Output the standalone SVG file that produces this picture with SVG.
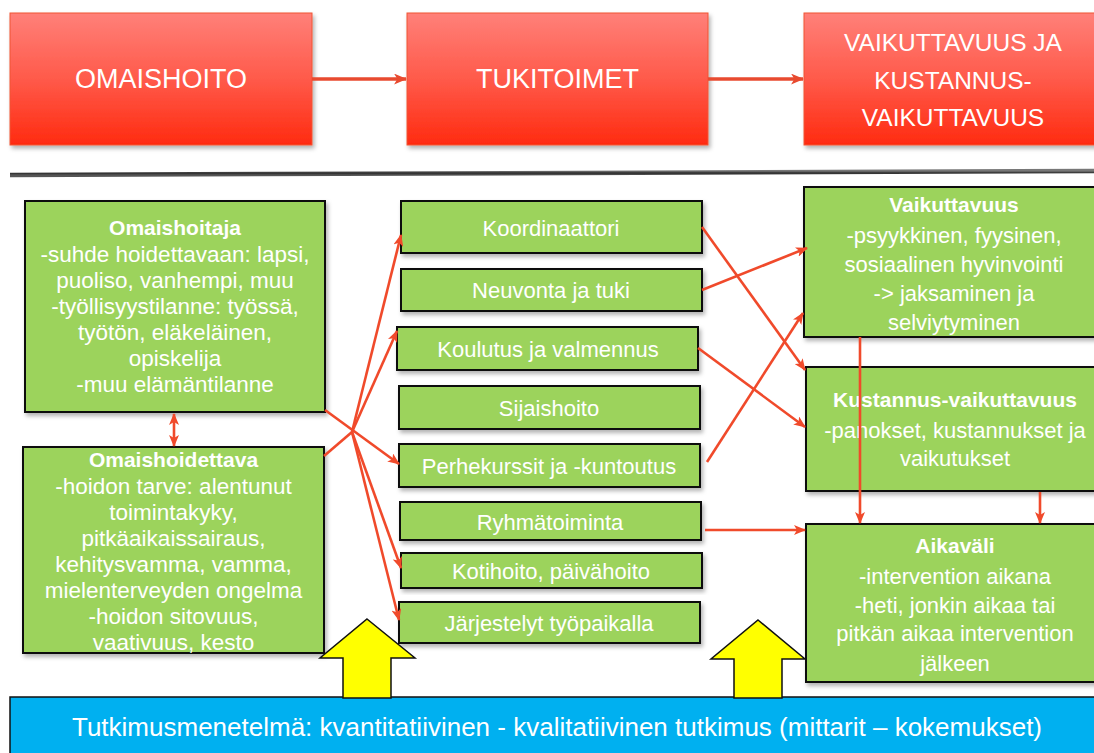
<svg xmlns="http://www.w3.org/2000/svg" width="1094" height="753" viewBox="0 0 1094 753">
<defs>
  <linearGradient id="redg" x1="0" y1="0" x2="0" y2="1">
    <stop offset="0" stop-color="#FF8079"/>
    <stop offset="0.5" stop-color="#FF5A4A"/>
    <stop offset="1" stop-color="#FF2B10"/>
  </linearGradient>
  <linearGradient id="sepg" x1="0" y1="0" x2="0" y2="1">
    <stop offset="0" stop-color="#777"/>
    <stop offset="0.5" stop-color="#2a2a2a"/>
    <stop offset="1" stop-color="#555"/>
  </linearGradient>
  <filter id="sh" x="-10%" y="-10%" width="130%" height="130%">
    <feDropShadow dx="2" dy="3" stdDeviation="2" flood-color="#000" flood-opacity="0.3"/>
  </filter>
  <marker id="ah" viewBox="0 0 12 10" refX="11" refY="5" markerUnits="userSpaceOnUse" markerWidth="12" markerHeight="10" orient="auto-start-reverse">
    <path d="M0,0 L12,5 L0,10 L3,5 z" fill="#F04A2B"/>
  </marker>
  <marker id="ahb" viewBox="0 0 12 10" refX="11" refY="5" markerUnits="userSpaceOnUse" markerWidth="13" markerHeight="11" orient="auto-start-reverse">
    <path d="M0,0 L12,5 L0,10 L3,5 z" fill="#E84A2F"/>
  </marker>
</defs>
<style>
  .red{fill:url(#redg);stroke:#F05535;stroke-width:1;filter:url(#sh)}
  .grn{fill:#9CD35C;stroke:#111;stroke-width:2;filter:url(#sh)}
  .tw{fill:#fff;font-family:"Liberation Sans",Arial,sans-serif;text-anchor:middle}
  .top{font-size:27px}
  .top3{font-size:24.5px}
  .lt{font-size:22.5px}
  .mt{font-size:22px}
  .b{font-weight:bold;font-size:21px}
  .con{fill:none;stroke:#F04A2B;stroke-width:2.6;marker-end:url(#ah)}
  .conn{fill:none;stroke:#F04A2B;stroke-width:2.6}
  .yel{fill:#FFFF00;stroke:#111;stroke-width:1.5}
</style>

<!-- top row -->
<g id="omaishoito">
  <rect class="red" x="10" y="13" width="302" height="132"/>
  <text class="tw top" x="161" y="88">OMAISHOITO</text>
</g>
<g id="tukitoimet">
  <rect class="red" x="407" y="13" width="301" height="132"/>
  <text class="tw top" x="557.5" y="88">TUKITOIMET</text>
</g>
<g id="vaikuttavuus-top">
  <rect class="red" x="804" y="13" width="300" height="132"/>
  <text class="tw top3" x="953" y="51">VAIKUTTAVUUS JA</text>
  <text class="tw top3" x="953" y="89">KUSTANNUS-</text>
  <text class="tw top3" x="953" y="126">VAIKUTTAVUUS</text>
</g>

<line x1="10" y1="175" x2="1094" y2="171" stroke="url(#sepg)" stroke-width="4.5"/>

<!-- left boxes -->
<g id="omaishoitaja">
  <rect class="grn" x="25" y="201" width="300" height="211"/>
  <text class="tw b" x="175" y="235">Omaishoitaja</text>
  <text class="tw lt" x="175" y="262">-suhde hoidettavaan: lapsi,</text>
  <text class="tw lt" x="175" y="288">puoliso, vanhempi, muu</text>
  <text class="tw lt" x="175" y="314">-työllisyystilanne: työssä,</text>
  <text class="tw lt" x="175" y="340">työtön, eläkeläinen,</text>
  <text class="tw lt" x="175" y="366">opiskelija</text>
  <text class="tw lt" x="175" y="392">-muu elämäntilanne</text>
</g>
<g id="omaishoidettava">
  <rect class="grn" x="23" y="447" width="301" height="206"/>
  <text class="tw b" x="173.5" y="467">Omaishoidettava</text>
  <text class="tw lt" x="173.5" y="494">-hoidon tarve: alentunut</text>
  <text class="tw lt" x="173.5" y="520">toimintakyky,</text>
  <text class="tw lt" x="173.5" y="546">pitkäaikaissairaus,</text>
  <text class="tw lt" x="173.5" y="572">kehitysvamma, vamma,</text>
  <text class="tw lt" x="173.5" y="598">mielenterveyden ongelma</text>
  <text class="tw lt" x="173.5" y="624">-hoidon sitovuus,</text>
  <text class="tw lt" x="173.5" y="650">vaativuus, kesto</text>
</g>

<!-- middle boxes -->
<g id="koordinaattori">
  <rect class="grn" x="401" y="201" width="301" height="52"/>
  <text class="tw mt" x="551" y="236">Koordinaattori</text>
</g>
<g id="neuvonta">
  <rect class="grn" x="401" y="269" width="301" height="42"/>
  <text class="tw mt" x="551" y="298">Neuvonta ja tuki</text>
</g>
<g id="koulutus">
  <rect class="grn" x="397" y="327" width="301" height="43"/>
  <text class="tw mt" x="548" y="357">Koulutus ja valmennus</text>
</g>
<g id="sijaishoito">
  <rect class="grn" x="399" y="386" width="301" height="43"/>
  <text class="tw mt" x="549" y="416">Sijaishoito</text>
</g>
<g id="perhekurssit">
  <rect class="grn" x="399" y="444" width="301" height="43"/>
  <text class="tw mt" x="549" y="474">Perhekurssit ja -kuntoutus</text>
</g>
<g id="ryhmatoiminta">
  <rect class="grn" x="400" y="502" width="301" height="38"/>
  <text class="tw mt" x="550" y="530">Ryhmätoiminta</text>
</g>
<g id="kotihoito">
  <rect class="grn" x="401" y="553" width="301" height="35"/>
  <text class="tw mt" x="551" y="579">Kotihoito, päivähoito</text>
</g>
<g id="jarjestelyt">
  <rect class="grn" x="399" y="602" width="301" height="41"/>
  <text class="tw mt" x="549" y="631">Järjestelyt työpaikalla</text>
</g>

<!-- right boxes -->
<g id="vaikuttavuus">
  <rect class="grn" x="804" y="187" width="302" height="150"/>
  <text class="tw b" x="954" y="212">Vaikuttavuus</text>
  <text class="tw mt" x="954" y="243">-psyykkinen, fyysinen,</text>
  <text class="tw mt" x="954" y="272">sosiaalinen hyvinvointi</text>
  <text class="tw mt" x="954" y="301">-&gt; jaksaminen ja</text>
  <text class="tw mt" x="954" y="330">selviytyminen</text>
</g>
<g id="kustannus">
  <rect class="grn" x="806" y="367" width="300" height="124"/>
  <text class="tw b" x="955" y="407">Kustannus-vaikuttavuus</text>
  <text class="tw mt" x="955" y="438">-panokset, kustannukset ja</text>
  <text class="tw mt" x="955" y="466">vaikutukset</text>
</g>
<g id="aikavali">
  <rect class="grn" x="806" y="524" width="300" height="158"/>
  <text class="tw b" x="955" y="553">Aikaväli</text>
  <text class="tw mt" x="955" y="584">-intervention aikana</text>
  <text class="tw mt" x="955" y="613">-heti, jonkin aikaa tai</text>
  <text class="tw mt" x="955" y="641">pitkän aikaa intervention</text>
  <text class="tw mt" x="955" y="671">jälkeen</text>
</g>

<!-- connectors -->
<g id="connectors">
  <line x1="312" y1="79" x2="406" y2="79" stroke="#E84A2F" stroke-width="3.5" marker-end="url(#ahb)"/>
  <line x1="708" y1="79" x2="803" y2="79" stroke="#E84A2F" stroke-width="3.5" marker-end="url(#ahb)"/>
  <line x1="174" y1="414" x2="174" y2="446" stroke="#F04A2B" stroke-width="2.6" marker-start="url(#ah)" marker-end="url(#ah)"/>
  <line class="con" x1="325" y1="410" x2="399" y2="464"/>
  <line class="conn" x1="324" y1="456" x2="352" y2="432"/>
  <line class="con" x1="352" y1="432" x2="401" y2="235"/>
  <line class="con" x1="352" y1="432" x2="397" y2="331"/>
  <line class="con" x1="352" y1="432" x2="401" y2="568"/>
  <line class="con" x1="352" y1="432" x2="399" y2="620"/>
  <line class="con" x1="702" y1="227" x2="805" y2="370"/>
  <line class="con" x1="702" y1="290" x2="807" y2="248"/>
  <line class="con" x1="698" y1="348" x2="805" y2="427"/>
  <line class="con" x1="707" y1="462" x2="803" y2="313"/>
  <line class="con" x1="705" y1="530" x2="805" y2="530"/>
  <line class="con" x1="860" y1="337" x2="860" y2="523"/>
  <line class="con" x1="1040" y1="492" x2="1040" y2="523"/>
</g>

<!-- bottom bar -->
<g id="tutkimusmenetelma">
  <rect x="10" y="697" width="1096" height="70" fill="#00B0F0" stroke="#111" stroke-width="1.5"/>
  <text class="tw" x="557" y="736" font-size="26">Tutkimusmenetelmä: kvantitatiivinen - kvalitatiivinen tutkimus (mittarit – kokemukset)</text>
</g>

<!-- yellow arrows -->
<g id="yellow-arrow-1">
  <path class="yel" d="M367,619 L415,658 L391,658 L391,698 L343,698 L343,658 L320,658 Z"/>
</g>
<g id="yellow-arrow-2">
  <path class="yel" d="M758,620 L805,659 L782,659 L782,698 L734,698 L734,659 L711,659 Z"/>
</g>
</svg>
